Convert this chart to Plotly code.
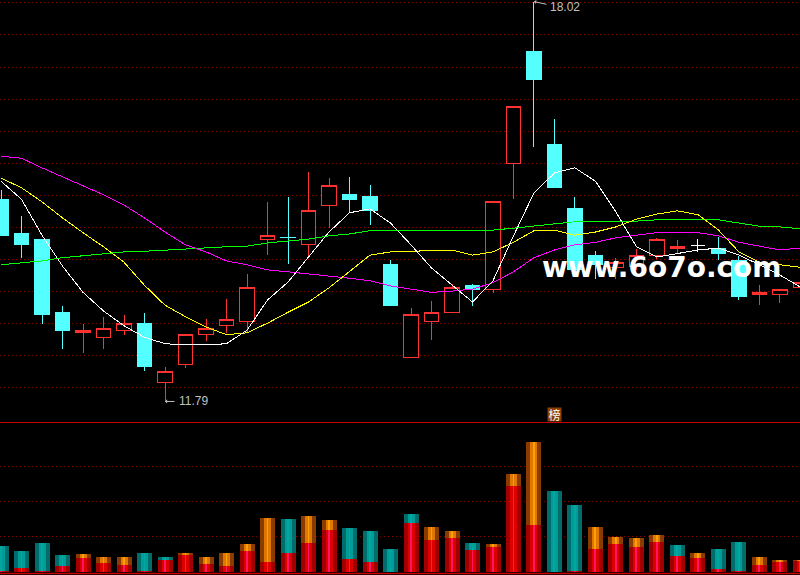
import plotly.graph_objects as go

# ---- daily prices -------------------------------------------------------
days = list(range(40))
opens = [14.94,14.41,14.31,13.17,12.86,12.79,12.89,13.00,12.09,12.36,12.84,12.98,13.03,14.31,None,14.23,14.84,15.01,14.98,13.93,
         12.48,13.04,13.18,13.60,13.54,15.49,17.25,15.80,14.80,14.06,13.87,13.89,14.06,14.17,None,14.18,13.99,13.45,13.45,13.57]
highs = [15.08,14.68,14.31,13.28,13.00,13.11,13.14,13.17,12.33,12.84,13.07,13.39,13.78,14.90,None,15.37,15.27,15.29,15.16,13.99,
         13.25,13.36,13.62,13.62,14.90,16.38,18.02,16.19,14.98,14.13,14.03,14.17,14.34,14.31,None,14.35,14.06,13.60,13.54,13.65]
lows = [14.37,14.03,13.00,12.61,12.55,12.61,12.83,12.26,11.79,12.31,12.73,12.86,12.87,14.07,None,14.04,14.49,14.73,14.54,13.28,
        12.48,12.75,13.18,13.28,13.48,14.94,15.75,15.12,13.80,13.70,13.70,13.84,14.01,14.10,None,13.99,13.37,13.29,13.32,13.57]
closes = [14.38,14.23,13.14,12.89,12.90,12.93,13.00,12.33,12.25,12.84,12.93,13.06,13.56,14.38,None,14.77,15.15,14.94,14.76,13.28,
          13.15,13.18,13.56,13.54,14.90,16.38,16.80,15.12,13.84,13.93,13.96,14.07,14.31,14.21,None,14.09,13.43,13.48,13.54,13.65]
# Narrow cyan session and the flat (open == close) session
thin_day = [14]
thin_open, thin_high, thin_low, thin_close = [14.35], [14.98], [13.93], [14.34]
flat_day = [34]
flat_open, flat_high, flat_low, flat_close = [14.22], [14.32], [14.12], [14.22]

# ---- moving averages ----------------------------------------------------
ma_white = [15.22,14.94,14.38,13.90,13.49,13.20,12.97,12.79,12.69,12.67,12.67,12.69,12.90,13.37,13.65,14.04,14.43,14.73,14.79,14.57,
            14.23,13.87,13.60,13.34,13.67,14.37,15.04,15.35,15.43,15.22,14.74,14.20,14.04,14.09,14.15,14.18,14.07,13.92,13.76,13.57]
ma_yellow = [15.27,15.12,14.90,14.65,14.42,14.20,13.96,13.60,13.29,13.11,12.95,12.83,12.86,13.01,13.18,13.34,13.56,13.81,14.07,14.12,
             14.13,14.15,14.15,14.07,14.12,14.27,14.45,14.46,14.38,14.43,14.51,14.63,14.71,14.76,14.70,14.46,14.12,13.96,13.92,13.88]
ma_magenta = [15.61,15.58,15.43,15.29,15.16,15.01,14.85,14.65,14.43,14.23,14.12,13.98,13.92,13.84,13.81,13.78,13.75,13.71,13.67,13.59,
              13.54,13.49,13.51,13.54,13.64,13.81,14.03,14.15,14.23,14.27,14.34,14.38,14.42,14.42,14.42,14.37,14.27,14.21,14.15,14.18]
ma_green = [13.92,13.95,13.98,14.03,14.06,14.09,14.12,14.13,14.15,14.17,14.18,14.20,14.21,14.26,14.29,14.32,14.37,14.40,14.45,14.46,
            14.45,14.45,14.45,14.45,14.46,14.49,14.52,14.55,14.59,14.59,14.59,14.60,14.62,14.63,14.62,14.62,14.57,14.52,14.51,14.48]

# ---- volume -------------------------------------------------------------
volume = [2600,2100,2900,1700,1800,1500,1500,1900,1500,1900,1500,1900,2800,5400,5300,5600,5200,4400,4100,2300,
          5800,4500,4100,2900,2800,9800,13000,8100,6700,4500,3500,3400,3700,2700,1900,2300,3000,1500,1200,1200]
volume_inner = [100,430,100,600,1400,900,700,100,1200,1700,800,600,2100,1000,1900,2900,4200,1300,1000,0,
                4900,3200,3400,2200,2500,8600,4700,0,100,2300,2800,2500,3000,1600,1400,300,100,700,1000,1100]
volume_kind = ["t","t","t","t","o","o","o","t","t","o","o","o","o","o","t","o","o","t","t","t",
               "t","o","o","t","o","o","o","t","t","o","o","o","o","t","o","t","t","o","o","o"]

price_ticks = [12.0,12.5,13.0,13.5,14.0,14.5,15.0,15.5,16.0,16.5,17.0,17.5,18.0]
volume_ticks = [3600,7100,10600]

# ---- style --------------------------------------------------------------
RED = "#ff3232"
CYAN = "#54ffff"
GRID = "#8c0000"
LINE = "#c80000"
LABEL = "#c0c0c0"
BAND = 15 / 20.5
MID = 7 / 20.5
CORE = 1 / 20.5

fig = go.Figure()


def candle(x, o, h, l, c, up, up_fill, down, down_fill):
    fig.add_trace(go.Candlestick(
        x=x, open=o, high=h, low=l, close=c, whiskerwidth=0,
        increasing=dict(line=dict(color=up, width=1), fillcolor=up_fill),
        decreasing=dict(line=dict(color=down, width=1), fillcolor=down_fill),
        xaxis="x", yaxis="y", showlegend=False, hoverinfo="skip"))


candle(days, opens, highs, lows, closes, RED, "#000000", CYAN, CYAN)
candle(thin_day, thin_open, thin_high, thin_low, thin_close, CYAN, CYAN, CYAN, CYAN)
candle(flat_day, flat_open, flat_high, flat_low, flat_close, "#ffffff", "#ffffff", "#ffffff", "#ffffff")

for series, color in [(ma_green, "#00ff00"), (ma_magenta, "#ff00ff"), (ma_yellow, "#ffff00"), (ma_white, "#ffffff")]:
    fig.add_trace(go.Scatter(x=days, y=series, mode="lines", line=dict(color=color, width=1),
                             xaxis="x", yaxis="y", showlegend=False, hoverinfo="skip"))

top_palette = {"t": ("#006c6c", "#009c98", "#00a8a0"), "o": ("#8a3c00", "#e07800", "#ffa000")}
for layer, width in enumerate([BAND, MID, CORE]):
    fig.add_trace(go.Bar(x=days, y=volume, width=width, marker=dict(color=[top_palette[k][layer] for k in volume_kind], line_width=0),
                         xaxis="x2", yaxis="y2", showlegend=False, hoverinfo="skip"))
for color, width in [("#a00000", BAND), ("#dc0000", MID), ("#ff1464", CORE)]:
    fig.add_trace(go.Bar(x=days, y=volume_inner, width=width, marker=dict(color=color, line_width=0),
                         xaxis="x2", yaxis="y2", showlegend=False, hoverinfo="skip"))

text_font = dict(family="Liberation Sans", size=12, color=LABEL)
arrow_style = dict(text=" ", showarrow=True, arrowhead=1, arrowsize=0.7, arrowwidth=1, arrowcolor=LABEL, axref="pixel", ayref="pixel",
                   standoff=0, startstandoff=0, font=dict(size=1))
annotations = [
    dict(arrow_style, x=8, y=11.79, xref="x", yref="y", ax=11, ay=0),
    dict(x=8, y=11.79, xref="x", yref="y", text="11.79", showarrow=False, xanchor="left", yanchor="middle", font=text_font, xshift=13, borderpad=0),
    dict(arrow_style, x=26, y=18.02, xref="x", yref="y", ax=14, ay=3),
    dict(x=26, y=17.936, xref="x", yref="y", text="18.02", showarrow=False, xanchor="left", yanchor="middle", font=text_font, xshift=15, borderpad=0),
    dict(x=27, y=160.5 / 575, xref="x", yref="paper", text="榜", showarrow=False, xanchor="center", yanchor="middle", bgcolor="#8a3f00",
         font=dict(family="Noto Sans CJK SC", size=12, color="#ffffff"), borderpad=0, height=13, width=13),
    dict(x=661.5 / 800, y=308 / 575, xref="paper", yref="paper", text="<b>www.6o7o.com</b>", showarrow=False,
         xanchor="center", yanchor="middle", font=dict(family="DejaVu Sans", size=28, color="#ffffff")),
]

axis_x = dict(range=[-0.0488, 38.976], showgrid=False, zeroline=False, showticklabels=False, ticks="", fixedrange=True)
fig.update_layout(
    width=800, height=575, margin=dict(l=0, r=0, t=0, b=0), paper_bgcolor="#000000", plot_bgcolor="#000000",
    showlegend=False, barmode="overlay", boxmode="overlay", boxgap=0.01, bargap=0,
    xaxis=dict(axis_x, domain=[0, 1], anchor="y", rangeslider=dict(visible=False)),
    xaxis2=dict(axis_x, domain=[0, 1], anchor="y2"),
    yaxis=dict(domain=[153 / 575, 1], range=[11.47, 18.045], tickvals=price_ticks, showticklabels=False, ticks="",
               showgrid=True, gridcolor=GRID, griddash="1px,3px", gridwidth=1, zeroline=False, anchor="x"),
    yaxis2=dict(domain=[3 / 575, 152 / 575], range=[0, 14900], tickvals=volume_ticks, showticklabels=False, ticks="",
                showgrid=True, gridcolor=GRID, griddash="1px,3px", gridwidth=1, zeroline=False, anchor="x2"),
    annotations=annotations,
    shapes=[
        dict(type="line", xref="paper", yref="paper", x0=0, x1=1, y0=152.5 / 575, y1=152.5 / 575, line=dict(color=LINE, width=1)),
        dict(type="line", xref="paper", yref="paper", x0=0, x1=1, y0=1.5 / 575, y1=1.5 / 575, line=dict(color=LINE, width=1.5)),
    ],
)
fig.write_html("out.html", config=dict(displayModeBar=False),
               post_script="document.body.style.margin='0';document.body.style.background='#000';document.documentElement.style.overflow='hidden';"
                           "document.querySelectorAll('.cartesianlayer path').forEach(function(p){p.style.shapeRendering='crispEdges';});")
